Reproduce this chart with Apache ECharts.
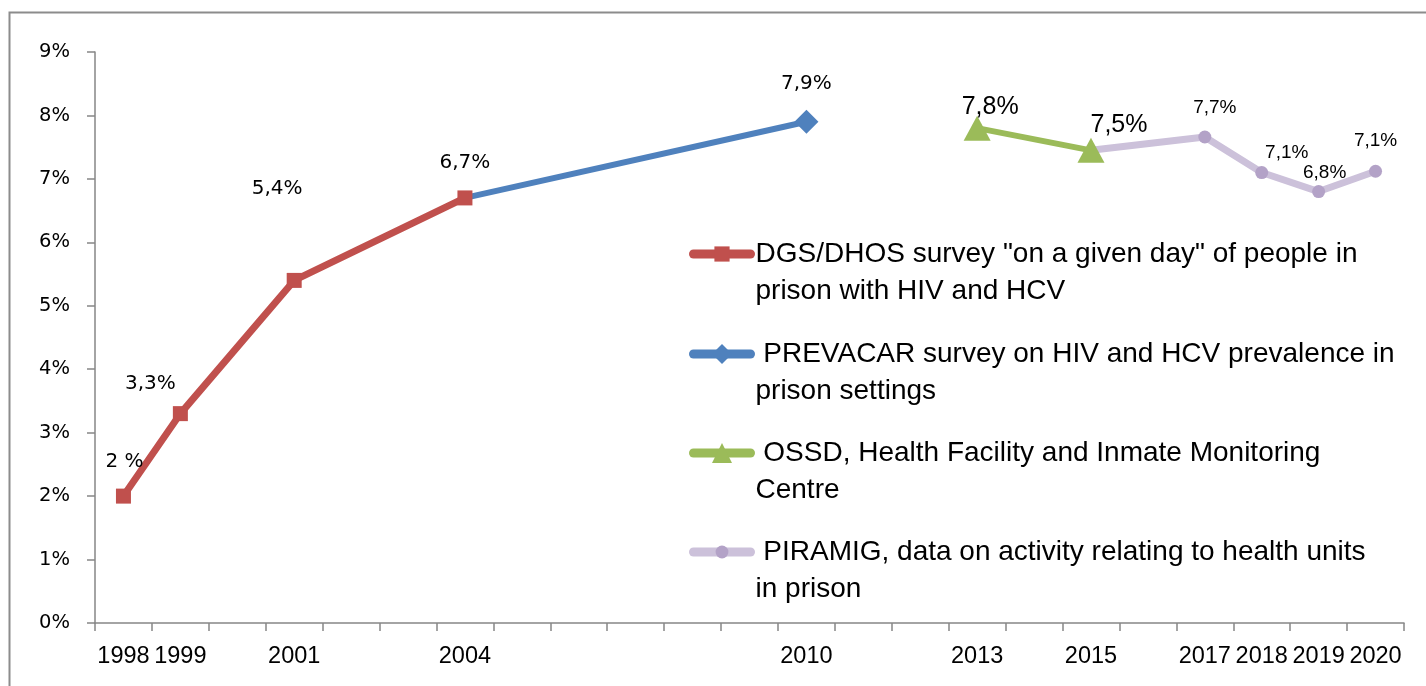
<!DOCTYPE html>
<html>
<head>
<meta charset="utf-8">
<script src="https://cdn.jsdelivr.net/npm/echarts@6/dist/echarts.min.js"></script>
<style>
  html, body { margin: 0; padding: 0; background: #fff; }
  #chart { width: 1426px; height: 686px; }
</style>
</head>
<body>
<div id="chart"></div>
<script>
// categories (one per year, only some get a label)
const years = [];
for (let y = 1998; y <= 2020; y++) years.push(String(y));
const shownYears = ['1998', '1999', '2001', '2004', '2010', '2013', '2015', '2017', '2018', '2019', '2020'];

const seriesNames = [
    'DGS/DHOS survey "on a given day" of people in\nprison with HIV and HCV',
    ' PREVACAR survey on HIV and HCV prevalence in\nprison settings',
    ' OSSD, Health Facility and Inmate Monitoring\nCentre',
    ' PIRAMIG, data on activity relating to health units\nin prison'
];

const dgsYears = ['1998', '1999', '2001', '2004'];
const dgsValues = [2.0, 3.3, 5.4, 6.7];
const dgsLabels = ['2 %', '3,3%', '5,4%', '6,7%'];

const prevacarYears = ['2004', '2010'];
const prevacarValues = [6.7, 7.9];
const prevacarLabels = [null, '7,9%'];

const ossdYears = ['2013', '2015'];
const ossdValues = [7.8, 7.45];
const ossdLabels = ['7,8%', '7,5%'];

const piramigYears = ['2015', '2017', '2018', '2019', '2020'];
const piramigValues = [7.45, 7.66, 7.1, 6.8, 7.12];
const piramigLabels = [null, '7,7%', '7,1%', '6,8%', '7,1%'];

const yTicks = [0, 1, 2, 3, 4, 5, 6, 7, 8, 9];

// label offsets from each point (pixels), styling only
const dgsOffsets = [[1, -34], [-30, -30], [-17, -92], [0, -35]];
const prevacarOffsets = [[0, 0], [0, -38]];
const ossdOffsets = [[13, -21], [28, -25]];
const piramigOffsets = [[0, 0], [10, -29], [25, -20], [6, -19], [0, -31]];

const calibri = "'Liberation Sans', Arial, sans-serif";
const verdana = "'DejaVu Sans', Verdana, sans-serif";

function buildData(yrs, vals, labels, offsets, hideFirst) {
    const arr = years.map(() => null);
    yrs.forEach((yr, i) => {
        const item = { value: vals[i] };
        if (labels[i]) {
            item.label = { show: true, formatter: labels[i], position: 'inside', offset: offsets[i] };
        } else {
            item.label = { show: false };
        }
        if (hideFirst && i === 0) item.symbol = 'none';
        arr[years.indexOf(yr)] = item;
    });
    return arr;
}

const myChart = echarts.init(document.getElementById('chart'));

const legendText = {
    color: '#000',
    fontFamily: calibri,
    fontSize: 28,
    lineHeight: 37
};

// one legend per series so each item can sit at its own spot;
// the leading empty line puts the first text line level with the icon
function oneLegend(name, top, itemHeight) {
    return {
        data: [name],
        left: 689,
        top: top,
        padding: 0,
        itemWidth: 57,
        itemHeight: itemHeight,
        selectedMode: false,
        formatter: n => '\n' + n,
        lineStyle: { width: 9, cap: 'round' },
        textStyle: legendText
    };
}

const option = {
    backgroundColor: '#fff',
    animation: false,
    graphic: [{
        type: 'rect',
        shape: { x: 9.5, y: 12.5, width: 1440, height: 700 },
        style: { fill: 'none', stroke: '#8c8c8c', lineWidth: 2 },
        silent: true
    }],
    grid: { left: 95, right: 22, top: 52, bottom: 63 },
    legend: [
        oneLegend(seriesNames[0], 254 - 55.5, 19),
        oneLegend(seriesNames[1], 354 - 55.5, 25),
        oneLegend(seriesNames[2], 453 - 55.5, 25),
        oneLegend(seriesNames[3], 552 - 55.5, 16)
    ],
    xAxis: {
        type: 'category',
        data: years,
        boundaryGap: true,
        axisLine: { lineStyle: { color: '#868686', width: 1.5 } },
        axisTick: { show: true, interval: 0, length: 8, lineStyle: { color: '#868686', width: 1.5 } },
        axisLabel: {
            interval: 0,
            margin: 22,
            color: '#000',
            fontFamily: calibri,
            fontSize: 23.5,
            formatter: v => (shownYears.indexOf(v) > -1 ? v : '')
        }
    },
    yAxis: {
        type: 'value',
        min: yTicks[0],
        max: yTicks[yTicks.length - 1],
        interval: 1,
        splitLine: { show: false },
        axisLine: { show: true, lineStyle: { color: '#868686', width: 1.5 } },
        axisTick: { show: true, length: 8, lineStyle: { color: '#868686', width: 1.5 } },
        axisLabel: {
            margin: 25,
            color: '#000',
            fontFamily: verdana,
            fontSize: 19.5,
            formatter: '{value}%'
        }
    },
    series: [
        {
            name: seriesNames[0],
            type: 'line',
            z: 4,
            connectNulls: true,
            symbol: 'rect',
            symbolSize: 15,
            itemStyle: { color: '#C0504D' },
            lineStyle: { color: '#C0504D', width: 7 },
            label: { color: '#000', fontFamily: verdana, fontSize: 20 },
            data: buildData(dgsYears, dgsValues, dgsLabels, dgsOffsets, false)
        },
        {
            name: seriesNames[1],
            type: 'line',
            z: 3,
            connectNulls: true,
            symbol: 'diamond',
            symbolSize: 24,
            itemStyle: { color: '#4F81BD' },
            lineStyle: { color: '#4F81BD', width: 6 },
            label: { color: '#000', fontFamily: verdana, fontSize: 20 },
            data: buildData(prevacarYears, prevacarValues, prevacarLabels, prevacarOffsets, true)
        },
        {
            name: seriesNames[2],
            type: 'line',
            z: 4,
            connectNulls: true,
            symbol: 'triangle',
            symbolSize: [27, 25],
            itemStyle: { color: '#9BBB59' },
            lineStyle: { color: '#9BBB59', width: 6 },
            label: { color: '#000', fontFamily: calibri, fontSize: 25 },
            data: buildData(ossdYears, ossdValues, ossdLabels, ossdOffsets, false)
        },
        {
            name: seriesNames[3],
            type: 'line',
            z: 3,
            connectNulls: true,
            symbol: 'circle',
            symbolSize: 13,
            itemStyle: { color: '#B3A2C7' },
            lineStyle: { color: '#CCC1DA', width: 7 },
            label: { color: '#000', fontFamily: calibri, fontSize: 19 },
            data: buildData(piramigYears, piramigValues, piramigLabels, piramigOffsets, true)
        }
    ]
};

myChart.setOption(option);
window.onresize = function () {
    myChart.resize();
};
</script>
</body>
</html>
